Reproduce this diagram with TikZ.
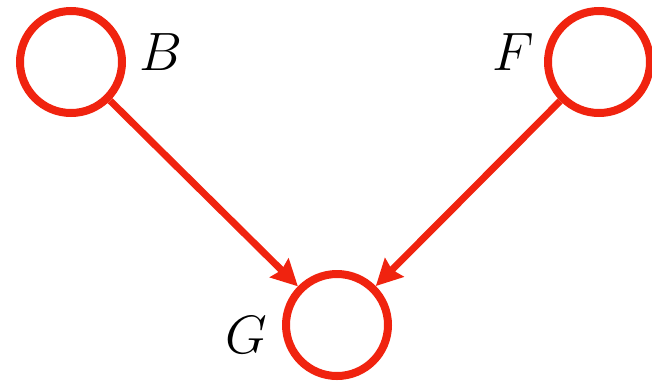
\documentclass[tikz,border=0pt]{standalone}
\usetikzlibrary{arrows.meta}
\definecolor{nodered}{RGB}{240,35,15}
\begin{document}
\begin{tikzpicture}[x=1pt,y=-1pt,
  var/.style={circle,draw=nodered,line width=8pt,minimum size=102pt,inner sep=0pt},
  lbl/.style={font=\Huge,inner sep=0pt,scale=2.17},
  edge/.style={draw=nodered,line width=7pt,-{Stealth[length=26pt,width=26pt,inset=3pt]}}]
\useasboundingbox (0,0) rectangle (652,381);
\node[var] (B) at (71,62) {};
\node[var] (F) at (599,62) {};
\node[var] (G) at (337,325) {};
\node[lbl] (lB) at (161,52) {$B$};
\node[lbl] (lF) at (513,52) {$F$};
\node[lbl] (lG) at (246,335) {$G$};
\draw[edge] (B) -- (G);
\draw[edge] (F) -- (G);
\end{tikzpicture}
\end{document}
